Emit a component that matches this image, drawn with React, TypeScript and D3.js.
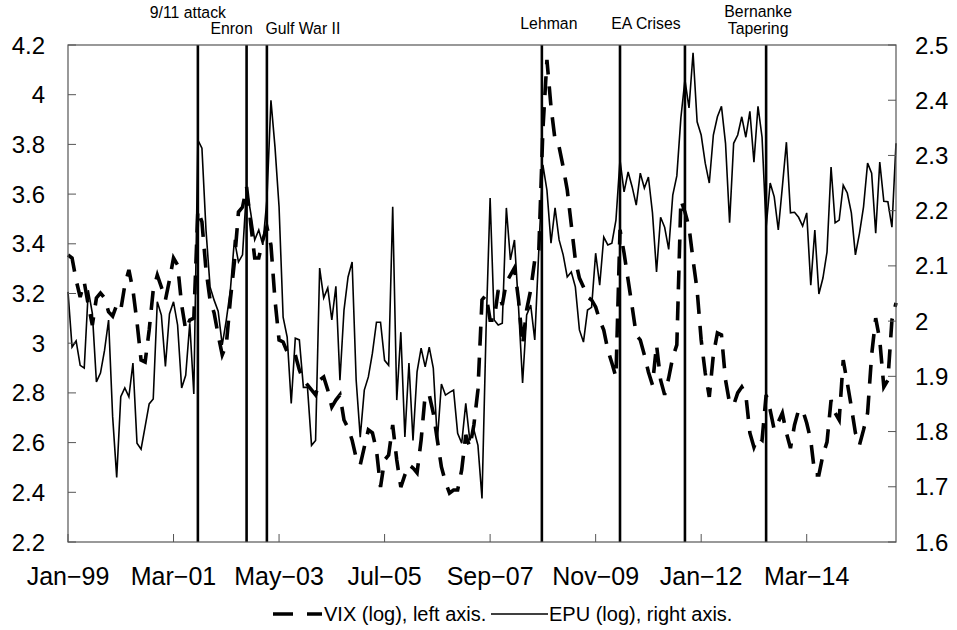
import React, { useRef, useEffect } from 'react';
import * as d3 from 'd3';

// monthly, Jan-99 .. Jan-16 (index = months since Jan-99)
const vix = [
  3.355, 3.343, 3.254, 3.186, 3.246, 3.154, 3.073, 3.182, 3.202, 3.182,
  3.126, 3.109, 3.154, 3.134, 3.234, 3.295, 3.214, 3.085, 2.932, 2.924,
  3.053, 3.214, 3.274, 3.226, 3.174, 3.254, 3.343, 3.315, 3.154, 3.053,
  3.093, 3.101, 3.536, 3.488, 3.295, 3.174, 3.122, 3.033, 2.953, 2.993,
  3.174, 3.327, 3.528, 3.548, 3.629, 3.484, 3.343, 3.343, 3.415, 3.468,
  3.395, 3.174, 3.013, 3.005, 2.965, 2.973, 2.953, 2.892, 2.852, 2.832,
  2.812, 2.792, 2.852, 2.864, 2.812, 2.743, 2.771, 2.792, 2.691, 2.659,
  2.610, 2.538, 2.510, 2.582, 2.651, 2.639, 2.570, 2.421, 2.530, 2.550,
  2.671, 2.530, 2.421, 2.470, 2.510, 2.498, 2.478, 2.610, 2.792, 2.792,
  2.719, 2.610, 2.502, 2.441, 2.397, 2.409, 2.409, 2.490, 2.631, 2.582,
  2.671, 2.812, 3.174, 3.194, 3.093, 3.093, 3.214, 3.154, 3.246, 3.274,
  3.303, 3.174, 2.993, 3.134, 3.214, 3.335, 3.375, 3.858, 4.140, 3.951,
  3.818, 3.790, 3.709, 3.617, 3.476, 3.335, 3.262, 3.226, 3.186, 3.174,
  3.146, 3.093, 3.053, 2.973, 2.920, 2.864, 3.456, 3.363, 3.254, 3.146,
  3.033, 3.013, 2.953, 2.884, 2.832, 2.993, 2.852, 2.792, 2.860, 2.944,
  2.993, 3.576, 3.528, 3.468, 3.335, 3.214, 3.013, 2.880, 2.784, 2.953,
  3.041, 3.033, 2.852, 2.759, 2.751, 2.800, 2.824, 2.792, 2.639, 2.582,
  2.623, 2.610, 2.792, 2.731, 2.651, 2.683, 2.719, 2.639, 2.578, 2.671,
  2.731, 2.731, 2.679, 2.610, 2.470, 2.470, 2.550, 2.602, 2.771, 2.719,
  2.691, 2.932, 2.840, 2.743, 2.639, 2.590, 2.651, 2.719, 2.953, 3.101,
  3.013, 2.824, 2.852, 3.093, 3.162,
];

const epu = [
  2.053, 1.953, 1.964, 1.920, 1.915, 2.056, 2.014, 1.890, 1.906, 1.947,
  2.002, 1.827, 1.717, 1.863, 1.879, 1.863, 1.924, 1.779, 1.768, 1.809,
  1.850, 1.859, 2.035, 2.011, 1.918, 2.013, 2.035, 1.993, 1.879, 1.902,
  1.996, 1.868, 2.328, 2.313, 2.165, 2.062, 2.038, 2.018, 1.957, 2.002,
  2.056, 2.147, 2.107, 2.120, 2.241, 2.197, 2.147, 2.165, 2.138, 2.219,
  2.400, 2.315, 2.207, 2.007, 1.971, 1.851, 1.969, 1.966, 1.880, 1.880,
  1.775, 1.784, 2.096, 2.042, 2.060, 2.002, 2.063, 1.893, 2.020, 2.080,
  2.107, 1.893, 1.790, 1.875, 1.899, 1.942, 1.998, 1.998, 1.929, 1.920,
  2.207, 1.857, 1.980, 1.790, 1.924, 1.784, 1.908, 1.951, 1.917, 1.953,
  1.915, 1.784, 1.886, 1.866, 1.871, 1.875, 1.797, 1.779, 1.851, 1.784,
  1.803, 1.775, 1.679, 1.984, 2.223, 2.002, 1.993, 1.996, 2.205, 2.111,
  2.147, 2.025, 1.888, 2.011, 2.029, 1.966, 2.129, 2.283, 2.237, 2.141,
  2.205, 2.147, 2.120, 2.080, 2.089, 2.062, 1.984, 1.962, 2.020, 2.025,
  2.123, 2.065, 2.152, 2.138, 2.141, 2.183, 2.292, 2.234, 2.270, 2.243,
  2.210, 2.268, 2.241, 2.261, 2.196, 2.089, 2.188, 2.170, 2.130, 2.228,
  2.263, 2.368, 2.437, 2.386, 2.486, 2.361, 2.337, 2.286, 2.250, 2.337,
  2.370, 2.389, 2.322, 2.178, 2.322, 2.337, 2.370, 2.333, 2.380, 2.288,
  2.389, 2.333, 2.170, 2.250, 2.225, 2.165, 2.243, 2.324, 2.196, 2.197,
  2.188, 2.172, 2.196, 2.065, 2.165, 2.049, 2.078, 2.125, 2.279, 2.178,
  2.183, 2.246, 2.232, 2.196, 2.120, 2.159, 2.207, 2.286, 2.268, 2.159,
  2.288, 2.217, 2.216, 2.170, 2.322,
];

const tickMonths = [0, 26, 52, 78, 104, 130, 156, 182];
const tickLabels = ['Jan\u221299', 'Mar\u221201', 'May\u221203', 'Jul\u221205', 'Sep\u221207', 'Nov\u221209', 'Jan\u221212', 'Mar\u221214'];
const leftTicks = [2.2, 2.4, 2.6, 2.8, 3, 3.2, 3.4, 3.6, 3.8, 4, 4.2];
const rightTicks = [1.6, 1.7, 1.8, 1.9, 2, 2.1, 2.2, 2.3, 2.4, 2.5];
const eventMonths = [32, 44, 49, 116.75, 136, 152, 172];
const eventLabels = [['9/11 attack'], ['Enron'], ['Gulf War II'], ['Lehman'], ['EA Crises'], [], ['Bernanke', 'Tapering']];

// label placement (dx from event line, baselines)
const labelLayout = [
  { dx: -10, ys: [18] },
  { dx: -15, ys: [34] },
  { dx: 36, ys: [34] },
  { dx: 7, ys: [29] },
  { dx: 26, ys: [29] },
  { dx: 0, ys: [] },
  { dx: -8, ys: [17, 34] },
];

const FONT = '"Liberation Sans", Arial, Helvetica, sans-serif';

const App: React.FC = () => {
  const ref = useRef<SVGSVGElement>(null);

  useEffect(() => {
    const svg = d3.select(ref.current);
    svg.selectAll('*').remove();
    const width = 957;
    const height = 630;
    const margin = { top: 45, right: 61, bottom: 88, left: 68 };

    svg.attr('width', width).attr('height', height);

    const x = d3.scaleLinear().domain([0, 204]).range([margin.left, width - margin.right]);
    const yL = d3.scaleLinear().domain([2.2, 4.2]).range([height - margin.bottom, margin.top]);
    const yR = d3.scaleLinear().domain([1.6, 2.5]).range([height - margin.bottom, margin.top]);

    const x0 = margin.left, x1 = width - margin.right;
    const y0 = height - margin.bottom, y1 = margin.top;

    // event lines
    svg.append('g')
      .selectAll('line')
      .data(eventMonths)
      .join('line')
      .attr('x1', d => x(d)).attr('x2', d => x(d))
      .attr('y1', y0).attr('y2', y1)
      .attr('stroke', '#000')
      .attr('stroke-width', 2.6);

    // event labels
    const lab = svg.append('g').attr('font-family', FONT).attr('font-size', 17).attr('fill', '#000');
    eventLabels.forEach((lines, i) => {
      lines.forEach((t, j) => {
        lab.append('text')
          .attr('transform', `translate(${x(eventMonths[i]) + labelLayout[i].dx},${labelLayout[i].ys[j]}) scale(0.93,1)`)
          .attr('text-anchor', 'middle')
          .text(t);
      });
    });

    // series
    const lineL = d3.line<number>().x((d, i) => x(i)).y(d => yL(d));
    const lineR = d3.line<number>().x((d, i) => x(i)).y(d => yR(d));

    svg.append('path')
      .datum(epu)
      .attr('fill', 'none')
      .attr('stroke', '#000')
      .attr('stroke-width', 1.6)
      .attr('d', lineR);

    svg.append('path')
      .datum(vix)
      .attr('fill', 'none')
      .attr('stroke', '#000')
      .attr('stroke-width', 3.6)
      .attr('stroke-dasharray', '19,12')
      .attr('d', lineL);

    // frame
    svg.append('rect')
      .attr('x', x0).attr('y', y1)
      .attr('width', x1 - x0).attr('height', y0 - y1)
      .attr('fill', 'none')
      .attr('stroke', '#555')
      .attr('stroke-width', 1.2);

    const axisColor = '#555';
    // bottom ticks
    svg.append('g')
      .selectAll('line')
      .data(tickMonths)
      .join('line')
      .attr('x1', d => x(d)).attr('x2', d => x(d))
      .attr('y1', y0).attr('y2', y0 - 8)
      .attr('stroke', axisColor).attr('stroke-width', 1);

    svg.append('g')
      .attr('font-family', FONT).attr('font-size', 25)
      .selectAll('text')
      .data(tickMonths)
      .join('text')
      .attr('x', d => x(d))
      .attr('y', y0 + 43)
      .attr('text-anchor', 'middle')
      .text((d, i) => tickLabels[i]);

    // left axis
    svg.append('g')
      .selectAll('line')
      .data(leftTicks)
      .join('line')
      .attr('x1', x0).attr('x2', x0 + 8)
      .attr('y1', d => yL(d)).attr('y2', d => yL(d))
      .attr('stroke', axisColor).attr('stroke-width', 1);

    svg.append('g')
      .attr('font-family', FONT).attr('font-size', 24)
      .selectAll('text')
      .data(leftTicks)
      .join('text')
      .attr('x', x0 - 23)
      .attr('y', d => yL(d) + 8.5)
      .attr('text-anchor', 'end')
      .text(d => String(d));

    // right axis
    svg.append('g')
      .selectAll('line')
      .data(rightTicks)
      .join('line')
      .attr('x1', x1).attr('x2', x1 - 8)
      .attr('y1', d => yR(d)).attr('y2', d => yR(d))
      .attr('stroke', axisColor).attr('stroke-width', 1);

    svg.append('g')
      .attr('font-family', FONT).attr('font-size', 24)
      .selectAll('text')
      .data(rightTicks)
      .join('text')
      .attr('x', x1 + 19)
      .attr('y', d => yR(d) + 8.5)
      .attr('text-anchor', 'start')
      .text(d => String(d));

    // legend
    const lg = svg.append('g').attr('font-family', FONT).attr('font-size', 20);
    lg.append('line')
      .attr('x1', 273).attr('x2', 322).attr('y1', 614).attr('y2', 614)
      .attr('stroke', '#000').attr('stroke-width', 3.6).attr('stroke-dasharray', '20,14');
    lg.append('text').attr('x', 324).attr('y', 621).text('VIX (log), left axis.');
    lg.append('line')
      .attr('x1', 491).attr('x2', 548).attr('y1', 614).attr('y2', 614)
      .attr('stroke', '#000').attr('stroke-width', 1.6);
    lg.append('text').attr('x', 549).attr('y', 621).text('EPU (log), right axis.');
  }, []);

  return <svg ref={ref} style={{ position: 'absolute', left: 0, top: 0, background: '#fff' }}></svg>;
};

export default App;
